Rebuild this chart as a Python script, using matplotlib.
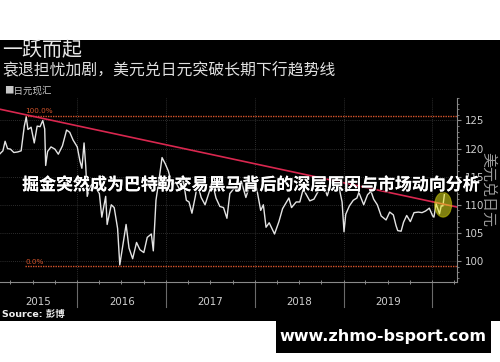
import matplotlib
matplotlib.use("Agg")
import matplotlib.pyplot as plt
import matplotlib.dates as mdates
from matplotlib.patches import Rectangle, Ellipse
from matplotlib.lines import Line2D
import matplotlib.patheffects as pe
import matplotlib.transforms as mtransforms
import pandas as pd

CJK = ['Noto Sans CJK SC', 'DejaVu Sans']
plt.rcParams['font.family'] = CJK

# ---------------- data ----------------
d2015 = ['2015-02-01', '2015-02-15', '2015-03-01', '2015-03-10', '2015-03-20', '2015-04-01', '2015-04-15',
         '2015-05-01', '2015-05-15', '2015-05-28', '2015-06-05', '2015-06-12', '2015-06-25', '2015-07-08',
         '2015-07-20', '2015-08-01', '2015-08-12', '2015-08-20', '2015-08-24', '2015-09-01', '2015-09-15',
         '2015-10-01', '2015-10-15', '2015-11-01', '2015-11-18', '2015-12-01', '2015-12-15']
v2015 = [117.5, 119.0, 119.6, 121.3, 120.0, 119.9, 119.3, 119.4, 119.6, 124.0, 125.6, 123.4, 123.8, 121.0,
         124.0, 123.9, 125.0, 123.5, 117.0, 119.5, 120.3, 119.9, 119.0, 120.5, 123.3, 122.9, 121.5]

d2016 = ['2016-01-01', '2016-01-12', '2016-01-20', '2016-01-29', '2016-02-05', '2016-02-11', '2016-02-20',
         '2016-03-01', '2016-03-15', '2016-04-01', '2016-04-11', '2016-04-27', '2016-05-03', '2016-05-20',
         '2016-06-01', '2016-06-15', '2016-06-24', '2016-07-05', '2016-07-20', '2016-08-01', '2016-08-16',
         '2016-09-01', '2016-09-15', '2016-10-01', '2016-10-15', '2016-11-01', '2016-11-09', '2016-11-20',
         '2016-12-01', '2016-12-15', '2016-12-28']
v2016 = [120.3, 117.8, 116.5, 121.0, 116.8, 111.5, 113.0, 113.6, 113.2, 112.0, 107.8, 111.5, 106.5, 110.0,
         109.5, 105.8, 99.3, 102.4, 106.5, 102.3, 100.4, 103.3, 102.0, 101.5, 104.2, 104.8, 101.8, 110.8,
         114.0, 118.4, 117.3]

d2017 = ['2017-01-10', '2017-01-25', '2017-02-10', '2017-02-28', '2017-03-10', '2017-03-25', '2017-04-05',
         '2017-04-17', '2017-05-01', '2017-05-10', '2017-05-25', '2017-06-10', '2017-06-25', '2017-07-10',
         '2017-07-25', '2017-08-10', '2017-08-25', '2017-09-08', '2017-09-20', '2017-10-05', '2017-10-20',
         '2017-11-06', '2017-11-25', '2017-12-10', '2017-12-25']
v2017 = [116.0, 113.5, 114.0, 112.5, 115.0, 110.8, 110.5, 108.5, 111.5, 113.8, 111.3, 110.0, 112.0, 114.0,
         111.2, 109.7, 109.5, 107.6, 112.0, 112.8, 113.5, 114.2, 111.3, 113.3, 113.2]

d2018 = ['2018-01-08', '2018-01-25', '2018-02-05', '2018-02-16', '2018-03-01', '2018-03-23', '2018-04-10',
         '2018-04-25', '2018-05-21', '2018-06-01', '2018-06-20', '2018-07-05', '2018-07-19', '2018-08-01',
         '2018-08-15', '2018-09-01', '2018-09-20', '2018-10-04', '2018-10-26', '2018-11-12', '2018-11-28',
         '2018-12-12', '2018-12-26']
v2018 = [113.0, 109.0, 110.0, 106.0, 106.8, 104.8, 107.0, 109.3, 111.2, 109.5, 110.5, 110.5, 112.8, 111.8,
         110.7, 111.0, 112.5, 114.3, 111.6, 114.0, 113.5, 113.4, 110.5]

d2019 = ['2019-01-03', '2019-01-10', '2019-01-25', '2019-02-10', '2019-02-25', '2019-03-05', '2019-03-25',
         '2019-04-10', '2019-04-24', '2019-05-05', '2019-05-20', '2019-06-05', '2019-06-25', '2019-07-10',
         '2019-07-25', '2019-08-05', '2019-08-12', '2019-08-26', '2019-09-05', '2019-09-18', '2019-10-03',
         '2019-10-18', '2019-11-05', '2019-11-20', '2019-12-05', '2019-12-20']
v2019 = [105.2, 108.3, 109.8, 110.8, 111.2, 112.2, 110.0, 111.8, 112.4, 111.0, 110.0, 108.0, 107.3, 108.7,
         108.2, 106.3, 105.4, 105.3, 106.9, 108.1, 107.0, 108.6, 108.7, 108.6, 108.9, 109.4]

d2020 = ['2020-01-03', '2020-01-08', '2020-01-17', '2020-01-31', '2020-02-07', '2020-02-14', '2020-02-20']
v2020 = [108.0, 107.8, 110.2, 108.4, 109.8, 109.8, 111.8]

trend_dates = ['2015-02-17', '2020-04-12']
trend_values = [127.0, 109.6]

fib_start = '2015-06-01'
fib_levels = [125.86, 99.02]
fib_labels = ['100.0%', '0.0%']

highlight_date = '2020-02-15'
highlight_value = 110.0

y_ticks = [100, 105, 110, 115, 120, 125]
years = [2015, 2016, 2017, 2018, 2019]

x_start = '2015-02-17'
x_end = '2020-04-12'
y_min, y_max = 96.26, 129.0

# ---------------- figure ----------------
W, H = 500, 362
fig = plt.figure(figsize=(W / 100, H / 100), dpi=100)
fig.patch.set_facecolor('white')


def fx(x):
    return x / W


def fy(y):
    return 1 - y / H


# black band
fig.add_artist(Rectangle((0, fy(321)), 1, (321 - 40) / H, transform=fig.transFigure,
                         facecolor='black', edgecolor='none', zorder=0))

ax = fig.add_axes([0, fy(282), 457 / W, (282 - 98) / H])
ax.set_facecolor('black')
ax.patch.set_alpha(0)

dates = pd.to_datetime(d2015 + d2016 + d2017 + d2018 + d2019 + d2020)
values = v2015 + v2016 + v2017 + v2018 + v2019 + v2020

ax.set_xlim(pd.Timestamp(x_start), pd.Timestamp(x_end))
ax.set_ylim(y_min, y_max)

# grid
grid_kw = dict(color='#3c3c3c', lw=0.6, ls=(0, (1, 1.5)), zorder=1)
for v in y_ticks:
    ax.axhline(v, **grid_kw)
for yr in years[1:] + [2020]:
    ax.axvline(pd.Timestamp(f'{yr}-01-01'), **grid_kw)

# fibonacci lines
fs = mdates.date2num(pd.Timestamp(fib_start))
xe = mdates.date2num(pd.Timestamp(x_end))
for lvl, lab in zip(fib_levels, fib_labels):
    ax.plot([fs, xe], [lvl, lvl], color='#d2532b', lw=1.0, ls=(0, (1, 0.8)), zorder=2)
    ax.text(fs, lvl + 0.35, lab, color='#d2532b', fontsize=5.2, ha='left', va='bottom',
            family=['DejaVu Sans'], zorder=2)

# price line
ax.plot(dates, values, color='#e4e4e4', lw=1.0, zorder=3)

# trend line
ax.plot(pd.to_datetime(trend_dates), trend_values, color='#d9274f', lw=1.2, zorder=4)

# highlight ellipse
hx = mdates.date2num(pd.Timestamp(highlight_date))
ax.add_patch(Ellipse((hx, highlight_value), width=17 / 88.75 * 365.25, height=4.4,
                     facecolor='#e6e61e', alpha=0.55, edgecolor='#c8c800', lw=0.8, zorder=5))

# spines
for s in ['left', 'top']:
    ax.spines[s].set_visible(False)
ax.spines['right'].set_color('#8a8a8a')
ax.spines['bottom'].set_color('#8a8a8a')
ax.spines['right'].set_linewidth(0.8)
ax.spines['bottom'].set_linewidth(0.8)

ax.yaxis.tick_right()
ax.set_yticks(y_ticks)
ax.set_yticklabels([str(v) for v in y_ticks])
ax.yaxis.set_minor_locator(matplotlib.ticker.MultipleLocator(1))
ax.tick_params(axis='y', which='major', colors='#8a8a8a', labelcolor='#cfcfcf', length=3,
               width=0.8, pad=3, labelsize=7.4, direction='out')
ax.tick_params(axis='y', which='minor', colors='#8a8a8a', length=1.5, width=0.6, direction='out')
for t in ax.get_yticklabels():
    t.set_family(['DejaVu Sans'])

ax.xaxis.set_major_locator(mdates.MonthLocator(bymonth=[1, 4, 7, 10]))
ax.xaxis.set_major_formatter(matplotlib.ticker.NullFormatter())
ax.tick_params(axis='x', which='major', colors='#8a8a8a', length=3, width=0.7, direction='inout')

# year labels and separators
trans = mtransforms.blended_transform_factory(ax.transData, ax.transAxes)
xs = mdates.date2num(pd.Timestamp(x_start))
for yr in years:
    a = max(mdates.date2num(pd.Timestamp(f'{yr}-01-01')), xs)
    b = mdates.date2num(pd.Timestamp(f'{yr + 1}-01-01'))
    ax.text((a + b) / 2, (282 - 302) / 184, str(yr), transform=trans, ha='center', va='center',
            color='#cfcfcf', fontsize=7.4, family=['DejaVu Sans'])
for yr in years[1:] + [2020]:
    xv = mdates.date2num(pd.Timestamp(f'{yr}-01-01'))
    ax.add_line(Line2D([xv, xv], [0, (282 - 307) / 184], transform=trans, color='#6a6a6a',
                       lw=0.8, clip_on=False))

# texts
fig.text(fx(2), fy(50), '一跃而起', color='#e8e8e8', fontsize=14.4, ha='left', va='center', family=CJK)
fig.text(fx(2), fy(71), '衰退担忧加剧，美元兑日元突破长期下行趋势线', color='#e0e0e0', fontsize=11.4,
         ha='left', va='center', family=CJK)
fig.text(fx(4), fy(91), '■日元现汇', color='#c8c8c8', fontsize=6.8, ha='left', va='center', family=CJK)
fig.text(fx(488), fy(190), '美元兑日元', color='#9a9a9a', fontsize=10.8, ha='center', va='center',
         rotation=270, family=CJK)
fig.text(fx(250), fy(185), '掘金突然成为巴特勒交易黑马背后的深层原因与市场动向分析', color='white',
         fontsize=12.2, fontweight='bold', ha='center', va='center', family=CJK,
         path_effects=[pe.withSimplePatchShadow(offset=(0.8, -0.8), shadow_rgbFace='black', alpha=0.8),
                       pe.Normal()], zorder=10)
fig.text(fx(2), fy(314), 'Source: 彭博', color='#f0f0f0', fontsize=6.8, fontweight='bold',
         ha='left', va='center', family=['DejaVu Sans', 'Noto Sans CJK SC'])

# watermark box
fig.add_artist(Rectangle((fx(276), fy(353)), (491 - 276) / W, (353 - 321) / H, transform=fig.transFigure,
                         facecolor='black', edgecolor='none', zorder=0))
fig.text(fx(383), fy(337), 'www.zhmo-bsport.com', color='white', fontsize=11.5, fontweight='bold',
         ha='center', va='center', family=['DejaVu Sans'])

fig.savefig('out.png', dpi=100, facecolor='white')
